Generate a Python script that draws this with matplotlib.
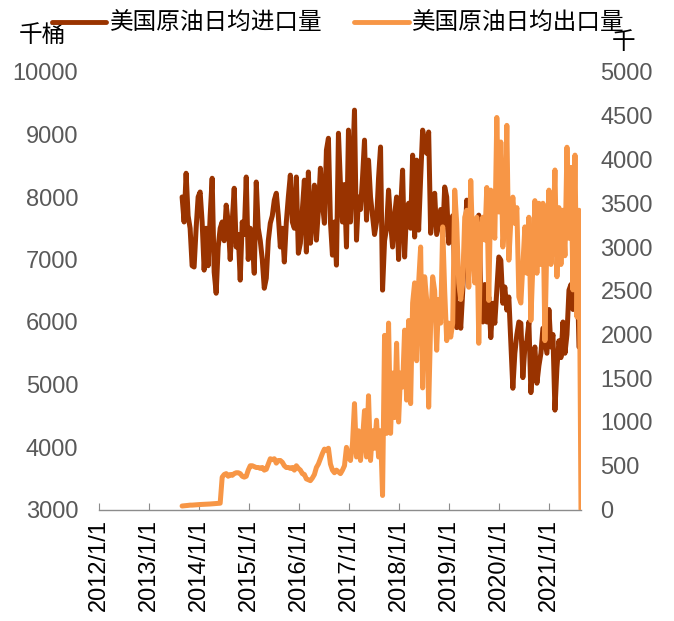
import matplotlib
matplotlib.use("Agg")
import matplotlib.pyplot as plt
from matplotlib.lines import Line2D
import pandas as pd

plt.rcParams['font.family'] = ['Liberation Sans', 'Noto Sans CJK SC']

# weekly-ish readings,千桶/日, from late Aug 2013 on
imports = [
    8000, 7600, 8380, 7700, 7500, 6900, 6880, 7500, 8000, 8080,
    7600, 6830, 7500, 6900, 7700, 8300, 6800, 6460, 7200, 7500,
    7600, 7300, 7870, 7600, 7000, 7600, 8140, 7200, 7400, 6670,
    7600, 7400, 8320, 7000, 7500, 7300, 6780, 8240, 7500, 7300,
    7000, 6540, 6700, 7300, 7580, 7700, 7950, 8060, 7700, 7200,
    7500, 6960, 7600, 8000, 8350, 7600, 7500, 8320, 7100, 7260,
    7800, 8270, 7120, 8400, 7260, 7700, 8190, 7310, 7800, 8460,
    7900, 7580, 8750, 8940, 7600, 7070, 7600, 6910, 9020, 8200,
    7600, 8200, 7200, 9070, 7600, 8400, 9390, 7310, 8000, 7800,
    8300, 8910, 7630, 8590, 8000, 7700, 7400, 7600, 8300, 8800,
    6510, 7300, 7500, 8110, 7600, 7200, 7700, 8000, 7000, 7800,
    8430, 7040, 7800, 7900, 7500, 8670, 7360, 8590, 7470, 8300,
    9070, 8900, 8700, 9040, 7420, 7800, 8060, 7400, 7600, 7800,
    7360, 8160, 8000, 7260, 7500, 7700, 6800, 5910, 6300, 5900,
    6500, 7200, 7950, 7580, 7300, 7000, 7400, 7500, 7710, 6500,
    6000, 6600, 6000, 6400, 5750, 6300, 5980, 6500, 7040, 6990,
    6300, 6560, 6190, 6400, 5660, 4940, 5500, 5800, 6000, 5980,
    5110, 5600, 5700, 6000, 4870, 5400, 5600, 5020, 5300, 5500,
    5900, 5700, 5500, 6200, 5600, 5800, 4590, 5270, 5700, 5430,
    6000, 5500, 5800, 6510, 6600, 6200, 6800, 7000, 5600,
]

# 千桶/日 (right axis)
exports = [
    40, 42, 45, 47, 50, 50, 52, 55, 55, 57,
    58, 60, 60, 62, 63, 65, 66, 68, 70, 72,
    370, 400, 410, 380, 400, 390, 410, 420, 420, 410,
    380, 370, 380, 450, 500, 500, 490, 480, 480, 470,
    480, 450, 460, 520, 580, 570, 580, 530, 560, 560,
    540, 500, 480, 480, 470, 480, 450, 500, 470, 450,
    410, 400, 350, 340, 330, 360, 400, 480, 520, 580,
    640, 690, 680, 700, 520, 450, 420, 450, 430, 410,
    450, 500, 710, 600, 560, 750, 1210, 600, 900, 560,
    800, 1130, 600, 1300, 560, 900, 700, 1020, 600, 900,
    160, 1990, 870, 2130, 870, 1560, 1050, 1900, 1000, 1560,
    1400, 2050, 1250, 2160, 1210, 2360, 2590, 1700, 2590, 3000,
    1390, 2660, 2400, 1170, 2130, 2660, 2500, 1820, 2400, 2130,
    3230, 2500, 1930, 2130, 1970, 2130, 3650, 3270, 2590, 2400,
    2590, 3340, 3420, 2540, 3760, 3000, 2590, 3340, 1900, 3190,
    3340, 3080, 3680, 2390, 3650, 3270, 3100, 4480, 3400, 4200,
    3000, 3300, 4390, 2850, 3300, 3570, 3270, 3450, 2430, 2360,
    2800, 3230, 2700, 3340, 2160, 2800, 3530, 2700, 3500, 2800,
    3500, 1930, 3100, 3650, 2800, 3100, 3880, 2660, 3450, 2800,
    3420, 2900, 4140, 3100, 3910, 2510, 4050, 2200, 3420, 0,
]

dates = pd.date_range('2013-08-30', '2021-08-22', periods=len(exports))
years = list(range(2012, 2022))
year_labels = [f'{y}/1/1' for y in years]

c_imp = '#993300'
c_exp = '#F79646'
grey = '#595959'

fig = plt.figure(figsize=(6.74, 6.21), dpi=100)
ax = fig.add_axes([99 / 674, 1 - 509.5 / 621, (581 - 99) / 674, (509.5 - 72) / 621])
ax2 = ax.twinx()

ax.plot(dates[:len(imports)], imports, color=c_imp, lw=3.6,
        solid_capstyle='round', solid_joinstyle='round')
ax2.plot(dates, exports, color=c_exp, lw=3.6,
         solid_capstyle='round', solid_joinstyle='round')

ax.set_xlim(pd.Timestamp('2012-01-01'), dates[-1])
ax.set_ylim(3000, 10000)
ax.set_yticks(range(3000, 10001, 1000))
ax2.set_ylim(0, 5000)
ax2.set_yticks(range(0, 5001, 500))

ax.set_xticks([pd.Timestamp(f'{y}-01-01') for y in years])
ax.set_xticklabels(year_labels)

for a in (ax, ax2):
    for s in ('top', 'left', 'right'):
        a.spines[s].set_visible(False)
ax2.spines['bottom'].set_visible(False)
ax.spines['bottom'].set_color('#8c8c8c')
ax.spines['bottom'].set_linewidth(1)

ax.tick_params(axis='x', direction='in', length=5, color='#8c8c8c',
               labelsize=17, labelrotation=90, pad=7)
ax.tick_params(axis='y', length=0, labelsize=17, labelcolor=grey, pad=15)
ax2.tick_params(axis='y', length=0, labelsize=17, labelcolor=grey, pad=14)

# units
fig.text(42 / 674, 1 - 36 / 621, '千桶', ha='center', va='center', fontsize=17)
fig.text(624 / 674, 1 - 43 / 621, '千', ha='center', va='center', fontsize=17)

handles = [Line2D([], [], color=c_imp, lw=3.5, solid_capstyle='round'),
           Line2D([], [], color=c_exp, lw=3.5, solid_capstyle='round')]
fig.legend(handles, ['美国原油日均进口量', '美国原油日均出口量'],
           loc='center left', bbox_to_anchor=(52 / 674, 1 - 24 / 621),
           ncol=2, frameon=False, fontsize=17, handlelength=2.3,
           handletextpad=0.15, columnspacing=1.35, borderpad=0, borderaxespad=0)

fig.savefig('out.png', dpi=100)
